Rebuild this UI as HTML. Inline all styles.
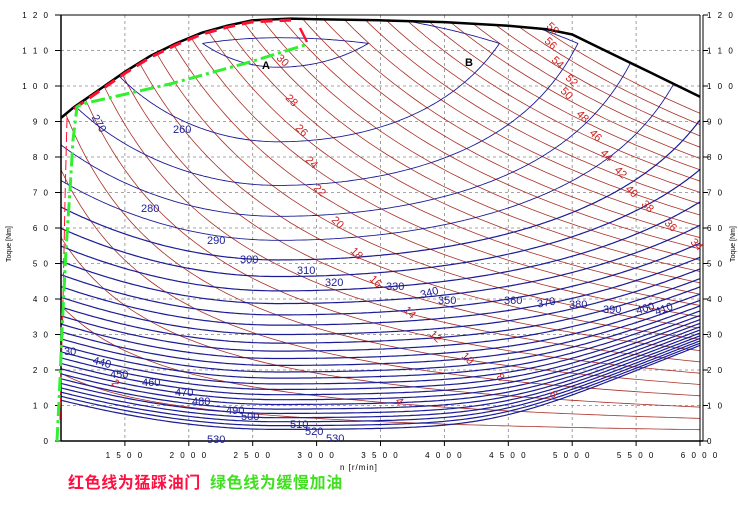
<!DOCTYPE html>
<html><head><meta charset="utf-8">
<style>
html,body{margin:0;padding:0;background:#fff;}
svg{display:block;}
.ax{font-family:"Liberation Sans",sans-serif;font-size:8px;fill:#000;letter-spacing:2px;}
.bl{font-family:"Liberation Sans",sans-serif;font-size:11px;fill:#1c1c96;}
.rl{font-family:"Liberation Sans",sans-serif;font-size:11px;fill:#d02020;}
.cn{font-family:"Liberation Sans","Noto Sans CJK SC",sans-serif;font-size:16px;font-weight:bold;letter-spacing:0.6px;}
</style></head>
<body>
<svg id="s" width="738" height="516" viewBox="0 0 738 516" xmlns="http://www.w3.org/2000/svg">
<defs><clipPath id="fl"><path id="flc" d=""/></clipPath></defs>
<g id="grid" stroke="#888" stroke-width="0.8" stroke-dasharray="3,3" fill="none"></g>
<g id="red" clip-path="url(#fl)" stroke="#a83028" stroke-width="0.8" fill="none"></g>
<g id="blue" clip-path="url(#fl)" stroke="#1c1c96" stroke-width="1.1" fill="none" stroke-linecap="round"></g>
<path id="flp" d="" stroke="#000" stroke-width="2.5" fill="none"/>
<line x1="61" y1="15" x2="61" y2="441" stroke="#000" stroke-width="1.5"/>
<line x1="61" y1="441" x2="703" y2="441" stroke="#000" stroke-width="1.5"/>
<line x1="700" y1="15" x2="700" y2="441" stroke="#000" stroke-width="1"/>
<line x1="703" y1="15" x2="703" y2="441" stroke="#000" stroke-width="1"/>
<line x1="61" y1="15" x2="700" y2="15" stroke="#000" stroke-width="1"/>
<g id="ticks" stroke="#000" stroke-width="1"></g>
<path d="M67,118 L65,200 L63,300 L60,420" stroke="#ff1030" stroke-width="1" stroke-dasharray="10,4" fill="none"/>
<path id="redfl" d="" stroke="#ff1030" stroke-width="3" stroke-dasharray="12,7" fill="none"/>
<path d="M300,28 L307,42" stroke="#ff1030" stroke-width="2.5" fill="none"/>
<path d="M57,441 L60,380 L62,330 L64,290 L66,250 L70,190 L73,140 L77,107 L82,104 L170,84 L250,62 L305,45" stroke="#30f030" stroke-width="3" stroke-dasharray="14,4,3,4" fill="none"/>
<text x="262" y="69" font-family="Liberation Sans,sans-serif" font-size="11" font-weight="bold">A</text>
<text x="465" y="66" font-family="Liberation Sans,sans-serif" font-size="11" font-weight="bold">B</text>
<g class="bl">
<text x="173" y="133">260</text>
<text x="84" y="120" transform="rotate(60 90 125)">270</text>
<text x="141" y="212">280</text>
<text x="207" y="244">290</text>
<text x="240" y="263">300</text>
<text x="297" y="274">310</text>
<text x="325" y="286">320</text>
<text x="386" y="290">330</text>
<text x="420" y="296" transform="rotate(-15 430 292)">340</text>
<text x="438" y="304">350</text>
<text x="504" y="304">360</text>
<text x="537" y="306" transform="rotate(-10 547 302)">370</text>
<text x="569" y="308">380</text>
<text x="603" y="313">390</text>
<text x="636" y="312" transform="rotate(-15 645 308)">400</text>
<text x="654" y="312" transform="rotate(-20 665 307)">410</text>
<text x="64" y="355">30</text>
<text x="93" y="366" transform="rotate(15 102 362)">440</text>
<text x="110" y="378">450</text>
<text x="142" y="386">460</text>
<text x="175" y="396">470</text>
<text x="192" y="405">480</text>
<text x="226" y="414">490</text>
<text x="241" y="420">500</text>
<text x="290" y="428">510</text>
<text x="305" y="435">520</text>
<text x="207" y="443">530</text>
<text x="326" y="442">530</text>
</g>
<g class="rl" id="rlab"></g>
<g class="ax" id="axl"></g>
<text x="340" y="470" class="ax" style="letter-spacing:1px">n [r/min]</text>
<text transform="translate(11,262) rotate(-90)" font-family="Liberation Sans,sans-serif" font-size="7">Toque [Nm]</text>
<text transform="translate(735,262) rotate(-90)" font-family="Liberation Sans,sans-serif" font-size="7">Toque [Nm]</text>
<text x="68" y="488" class="cn" fill="#ff1040">红色线为猛踩油门</text>
<text x="210" y="488" class="cn" fill="#40e020">绿色线为缓慢加油</text>
</svg>
<script>
(function(){
var NS="http://www.w3.org/2000/svg";
function X(n){return 61+(n-1000)*0.1278;}
function Y(T){return 441-T*3.55;}
function el(tag,attrs,parent){var e=document.createElementNS(NS,tag);for(var k in attrs)e.setAttribute(k,attrs[k]);parent.appendChild(e);return e;}
var FL=[[1000,91],[1100,94],[1300,99],[1500,104],[1700,108.5],[1900,112],[2100,115],[2300,117],[2500,118.5],[2800,119],[3000,118.8],[3500,118.5],[4000,118],[4500,117],[4800,116],[5000,114.5],[5200,111],[5400,107.5],[5600,104],[5800,100.5],[6000,97]];
var d="";FL.forEach(function(p,i){d+=(i?"L":"M")+X(p[0]).toFixed(1)+","+Y(p[1]).toFixed(1);});
document.getElementById("flp").setAttribute("d",d);
document.getElementById("flc").setAttribute("d",d+"L700,441L61,441Z");
var rd="";FL.forEach(function(p,i){if(p[0]>=1050&&p[0]<=2900)rd+=(rd?"L":"M")+X(p[0]).toFixed(1)+","+(Y(p[1])+1.5).toFixed(1);});
document.getElementById("redfl").setAttribute("d",rd);
var g=document.getElementById("grid");
for(var n=1500;n<=5500;n+=500)el("line",{x1:X(n),y1:15,x2:X(n),y2:441},g);
for(var T=10;T<120;T+=10)el("line",{x1:61,y1:Y(T),x2:700,y2:Y(T)},g);
var tk=document.getElementById("ticks"),ax=document.getElementById("axl");
function sp(s){return s.split("").join(" ");}
for(var T=0;T<=120;T+=10){var y=Y(T);el("line",{x1:55,y1:y,x2:61,y2:y},tk);el("line",{x1:703,y1:y,x2:708,y2:y},tk);
var t=el("text",{x:50,y:y+3,"text-anchor":"end"},ax);t.textContent=T?sp(String(T)):"0";
var t2=el("text",{x:707,y:y+3},ax);t2.textContent=T?sp(String(T)):"0";}
for(var n=1500;n<=6000;n+=500){var x=X(n);el("line",{x1:x,y1:441,x2:x,y2:446},tk);var t=el("text",{x:x,y:458,"text-anchor":"middle"},ax);t.textContent=sp(String(n));}
var r=document.getElementById("red");
for(var P=2;P<=58;P+=2){var s="";for(var n=1000;n<=6000;n+=50){var T=9549*P/n;if(T>125)continue;s+=(s?"L":"M")+X(n).toFixed(1)+","+Y(T).toFixed(1);}if(s)el("path",{d:s},r);}
var RL=[[30,283,60],[28,292,100],[26,302,130],[24,312,162],[22,320,190],[20,338,222],[18,357,253],[16,376,281],[14,410,312],[12,436,336],[10,468,358],[8,503,379],[6,556,396],[4,402,403],[2,118,385],[58,553,28],[56,551,43],[54,558,62],[52,572,80],[50,567,93],[48,583,116],[46,596,135],[44,607,155],[42,621,172],[40,632,191],[38,648,206],[36,671,225],[34,697,244]];
var rl=document.getElementById("rlab");
RL.forEach(function(a){var t=el("text",{x:a[1]-6,y:a[2]+4,transform:"rotate(45 "+a[1]+" "+a[2]+")"},rl);t.textContent=a[0];});
function f(n,T){var dn=(n-2700)/1000;var b=240+60*Math.exp((51-T)/30.3);
if(dn<0)b+=(5+12*Math.exp((25-T)/30))*dn*dn;
else{b+=4*dn*dn+0.91*Math.exp(-(T-38)/9.3)*Math.pow(dn/1.8,6);}
if(T>112)b+=(T-112)*1.5;return b;}
var dn_=25,dT=0.5,NC=200,NR=240,V=[];
for(var i=0;i<=NC;i++){V[i]=[];for(var j=0;j<=NR;j++)V[i][j]=f(1000+i*dn_,j*dT);}
var bl=document.getElementById("blue");
for(var L=250;L<=530;L+=10){var s="";
for(var i=0;i<NC;i++)for(var j=0;j<NR;j++){
var a=V[i][j],b=V[i+1][j],c=V[i+1][j+1],e=V[i][j+1];var pts=[];
function ed(v1,v2,x1,y1,x2,y2){if((v1<L)!=(v2<L)){var t=(L-v1)/(v2-v1);pts.push([x1+(x2-x1)*t,y1+(y2-y1)*t]);}}
var n0=1000+i*dn_,n1=n0+dn_,T0=j*dT,T1=T0+dT;
ed(a,b,n0,T0,n1,T0);ed(b,c,n1,T0,n1,T1);ed(c,e,n1,T1,n0,T1);ed(e,a,n0,T1,n0,T0);
for(var k=0;k+1<pts.length;k+=2)s+="M"+X(pts[k][0]).toFixed(1)+","+Y(pts[k][1]).toFixed(1)+"L"+X(pts[k+1][0]).toFixed(1)+","+Y(pts[k+1][1]).toFixed(1);}
if(s)el("path",{d:s,"stroke-width":L<300?0.9:1.2},bl);}
})();
</script>
</body></html>
